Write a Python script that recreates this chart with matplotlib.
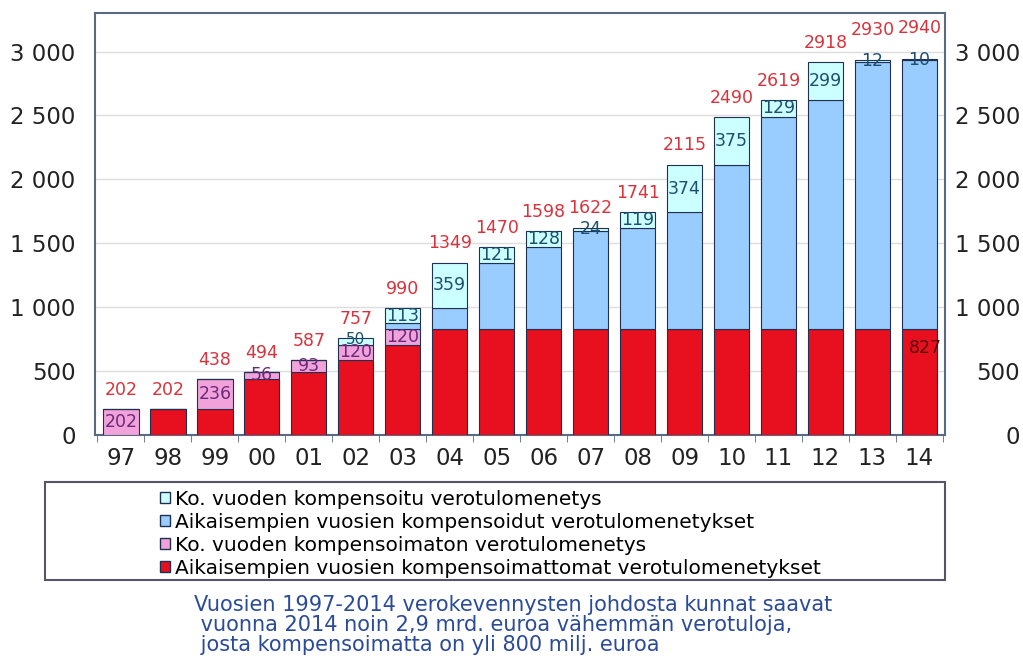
import matplotlib
matplotlib.use("Agg")
import matplotlib.pyplot as plt
from matplotlib.patches import Patch, Rectangle
import numpy as np

years = ["97", "98", "99", "00", "01", "02", "03", "04", "05", "06", "07", "08",
         "09", "10", "11", "12", "13", "14"]
red_prev_uncomp = [0, 202, 202, 438, 494, 587, 707, 827, 827, 827, 827, 827,
                   827, 827, 827, 827, 827, 827]
pink_year_uncomp = [202, 0, 236, 56, 93, 120, 120, 0, 0, 0, 0, 0,
                    0, 0, 0, 0, 0, 0]
blue_prev_comp = [0, 0, 0, 0, 0, 0, 50, 163, 522, 643, 771, 795,
                  914, 1288, 1663, 1792, 2091, 2103]
cyan_year_comp = [0, 0, 0, 0, 0, 50, 113, 359, 121, 128, 24, 119,
                  374, 375, 129, 299, 12, 10]
totals = [202, 202, 438, 494, 587, 757, 990, 1349, 1470, 1598, 1622, 1741,
          2115, 2490, 2619, 2918, 2930, 2940]
yticks = [0, 500, 1000, 1500, 2000, 2500, 3000]
ytick_labels = ["0", "500", "1 000", "1 500", "2 000", "2 500", "3 000"]
legend_labels = ["Ko. vuoden kompensoitu verotulomenetys",
                 "Aikaisempien vuosien kompensoidut verotulomenetykset",
                 "Ko. vuoden kompensoimaton verotulomenetys",
                 "Aikaisempien vuosien kompensoimattomat verotulomenetykset"]
caption = ("Vuosien 1997-2014 verokevennysten johdosta kunnat saavat\n"
           " vuonna 2014 noin 2,9 mrd. euroa vähemmän verotuloja,\n"
           " josta kompensoimatta on yli 800 milj. euroa")

C_RED = "#E8101E"
C_PINK = "#F2A2DA"
C_BLUE = "#99CCFF"
C_CYAN = "#CCFFFF"
EDGE = "#1F3050"

plt.rcParams['font.family'] = ['DejaVu Sans']
fig = plt.figure(figsize=(10.23, 6.58), dpi=100)
ax = fig.add_axes([0.093, 0.339, 0.831, 0.641])

x = np.arange(len(years))
w = 0.75
red = np.array(red_prev_uncomp)
pink = np.array(pink_year_uncomp)
blue = np.array(blue_prev_comp)
cyan = np.array(cyan_year_comp)

ax.bar(x, red, w, color=C_RED, edgecolor=EDGE, linewidth=0.8, zorder=3)
ax.bar(x, pink, w, bottom=red, color=C_PINK, edgecolor=EDGE, linewidth=0.8, zorder=3)
ax.bar(x, blue, w, bottom=red + pink, color=C_BLUE, edgecolor=EDGE, linewidth=0.8, zorder=3)
ax.bar(x, cyan, w, bottom=red + pink + blue, color=C_CYAN, edgecolor=EDGE, linewidth=0.8, zorder=3)

# segment labels
for i in range(len(years)):
    if pink[i] > 0:
        ax.text(x[i], red[i] + pink[i] / 2, str(pink[i]), ha='center', va='center',
                fontsize=12.5, color="#6A2A7A", zorder=5)
    if cyan[i] > 0:
        fs = 11 if cyan[i] < 60 and pink[i] > 0 else 12.5
        ax.text(x[i], red[i] + pink[i] + blue[i] + cyan[i] / 2 + (15 if fs == 11 else 0),
                str(cyan[i]), ha='center', va='center', fontsize=fs,
                color="#1D4F6E", zorder=5)
    off = 240 if i >= 16 else 150
    ax.text(x[i], totals[i] + off, str(totals[i]), ha='center', va='center',
            fontsize=12.5, color="#D8333C", zorder=5)
ax.text(x[-1] + 0.12, red[-1] - 150, str(red[-1]), ha='center', va='center',
        fontsize=12.5, color="#5A0A0A", zorder=5)

ax.set_xlim(-0.55, len(years) - 0.45)
ax.set_ylim(0, 3300)
ax.set_yticks(yticks)
ax.set_yticklabels(ytick_labels)
ax.set_xticks(x)
ax.set_xticklabels(years)
ax.set_xticks(np.arange(len(years) + 1) - 0.5, minor=True)
ax.tick_params(axis='y', length=0, labelsize=16.5, colors="#222222", pad=14)
ax.tick_params(axis='x', which='major', length=0, labelsize=16.5, colors="#222222", pad=9)
ax.tick_params(axis='x', which='minor', length=5, color="#5A6A80", direction='out')
ax.grid(axis='y', color="#DDDDDD", linewidth=1, zorder=0)
for s in ax.spines.values():
    s.set_color("#5A6A80")
    s.set_linewidth(1.5)

ax2 = ax.twinx()
ax2.set_ylim(ax.get_ylim())
ax2.set_yticks(yticks)
ax2.set_yticklabels(ytick_labels, ha='right')
ax2.tick_params(axis='y', length=0, labelsize=16.5, colors="#222222", pad=54)
for s in ax2.spines.values():
    s.set_visible(False)

# legend box
fig.patches.append(Rectangle((0.044, 0.119), 0.880, 0.148, transform=fig.transFigure,
                             fill=False, edgecolor="#555566", linewidth=1.5))
handles = [Patch(facecolor=C_CYAN, edgecolor=EDGE), Patch(facecolor=C_BLUE, edgecolor=EDGE),
           Patch(facecolor=C_PINK, edgecolor=EDGE), Patch(facecolor=C_RED, edgecolor=EDGE)]
fig.legend(handles, legend_labels, loc='upper left', bbox_to_anchor=(0.145, 0.274),
           frameon=False, fontsize=14.5, handlelength=0.5, handleheight=0.5,
           handletextpad=0.2, labelspacing=0.2, borderpad=0.1)

fig.text(0.19, 0.095, caption, ha='left', va='top', fontsize=15, color="#2A4A9A",
         linespacing=0.98)

fig.savefig("out.png", dpi=100)
